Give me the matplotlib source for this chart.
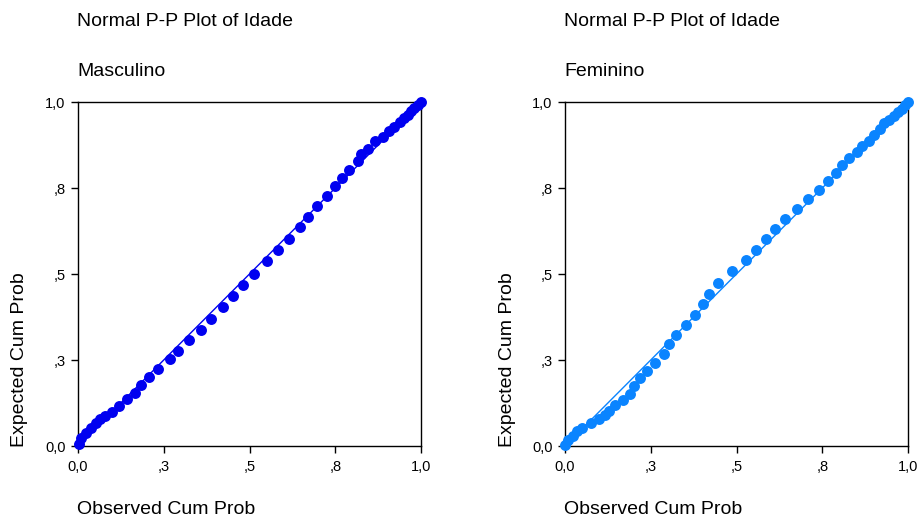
import matplotlib
matplotlib.use("Agg")
import matplotlib.pyplot as plt

plt.rcParams['font.family'] = ['Liberation Sans', 'DejaVu Sans']

title_text = "Normal P-P Plot of Idade"
groups = ["Masculino", "Feminino"]
xlabel_text = "Observed Cum Prob"
ylabel_text = "Expected Cum Prob"
tick_values = [0.0, 0.25, 0.5, 0.75, 1.0]
tick_labels = ["0,0", ",3", ",5", ",8", "1,0"]

masc_obs = [0.002, 0.008, 0.022, 0.037, 0.052, 0.064, 0.079, 0.100, 0.120, 0.144,
            0.165, 0.185, 0.206, 0.233, 0.267, 0.292, 0.324, 0.358, 0.389, 0.423,
            0.451, 0.481, 0.512, 0.550, 0.582, 0.616, 0.647, 0.672, 0.697, 0.726,
            0.750, 0.771, 0.791, 0.815, 0.825, 0.846, 0.867, 0.888, 0.908, 0.920,
            0.940, 0.951, 0.961, 0.971, 0.981, 0.990, 1.000]
masc_exp = [0.005, 0.022, 0.037, 0.051, 0.066, 0.078, 0.087, 0.100, 0.116, 0.136,
            0.153, 0.177, 0.200, 0.223, 0.252, 0.276, 0.308, 0.338, 0.369, 0.403,
            0.435, 0.467, 0.501, 0.538, 0.570, 0.603, 0.637, 0.667, 0.698, 0.727,
            0.755, 0.779, 0.803, 0.828, 0.849, 0.864, 0.886, 0.898, 0.915, 0.927,
            0.941, 0.953, 0.963, 0.973, 0.983, 0.992, 1.000]

fem_obs = [0.000, 0.010, 0.022, 0.036, 0.051, 0.075, 0.100, 0.116, 0.129, 0.145,
           0.168, 0.189, 0.202, 0.218, 0.239, 0.263, 0.288, 0.303, 0.325, 0.352,
           0.380, 0.402, 0.419, 0.447, 0.487, 0.528, 0.557, 0.586, 0.611, 0.640,
           0.675, 0.707, 0.741, 0.766, 0.790, 0.809, 0.827, 0.850, 0.867, 0.885,
           0.901, 0.918, 0.930, 0.945, 0.959, 0.972, 0.982, 0.991, 1.000]
fem_exp = [0.003, 0.017, 0.030, 0.044, 0.051, 0.066, 0.078, 0.090, 0.103, 0.119,
           0.134, 0.151, 0.173, 0.197, 0.218, 0.242, 0.267, 0.296, 0.323, 0.352,
           0.381, 0.412, 0.442, 0.475, 0.509, 0.541, 0.570, 0.601, 0.631, 0.661,
           0.689, 0.718, 0.745, 0.771, 0.793, 0.816, 0.837, 0.854, 0.873, 0.887,
           0.905, 0.922, 0.939, 0.949, 0.960, 0.971, 0.981, 0.990, 0.999]

colors = ["#0000F0", "#0A84FF"]
line_ref = [0.0, 1.0]

W, H = 922, 519
fig = plt.figure(figsize=(W / 100, H / 100), dpi=100)

panels = [
    (78, masc_obs, masc_exp, colors[0], groups[0]),
    (565, fem_obs, fem_exp, colors[1], groups[1]),
]
ax_w, ax_top, ax_bot = 343, 102, 446

for left, xo, ye, col, grp in panels:
    ax = fig.add_axes([left / W, 1 - ax_bot / H, ax_w / W, (ax_bot - ax_top) / H])
    ax.plot(line_ref, line_ref, color=col, lw=1.0, zorder=2)
    ax.scatter(xo, ye, s=62, color=col, zorder=3, clip_on=False, linewidths=0)
    ax.set_xlim(0, 1)
    ax.set_ylim(0, 1)
    ax.set_xticks(tick_values)
    ax.set_xticklabels(tick_labels)
    ax.set_yticks(tick_values)
    ax.set_yticklabels(tick_labels)
    ax.tick_params(direction='out', length=5, width=1, labelsize=10.5, colors='black')
    ax.tick_params(axis='x', pad=5)
    ax.tick_params(axis='y', pad=4)
    for sp in ax.spines.values():
        sp.set_linewidth(1.0)
        sp.set_color('black')
    fig.text((left - 1) / W, 1 - 22 / H, title_text, fontsize=14, ha='left', va='center')
    fig.text((left - 1) / W, 1 - 72 / H, grp, fontsize=14, ha='left', va='center')
    fig.text((left - 1) / W, 1 - 510 / H, xlabel_text, fontsize=14, ha='left', va='center')
    fig.text((left - 58) / W, 1 - 360 / H, ylabel_text, fontsize=14, ha='center',
             va='center', rotation=90)

fig.savefig("out.png", dpi=100)
